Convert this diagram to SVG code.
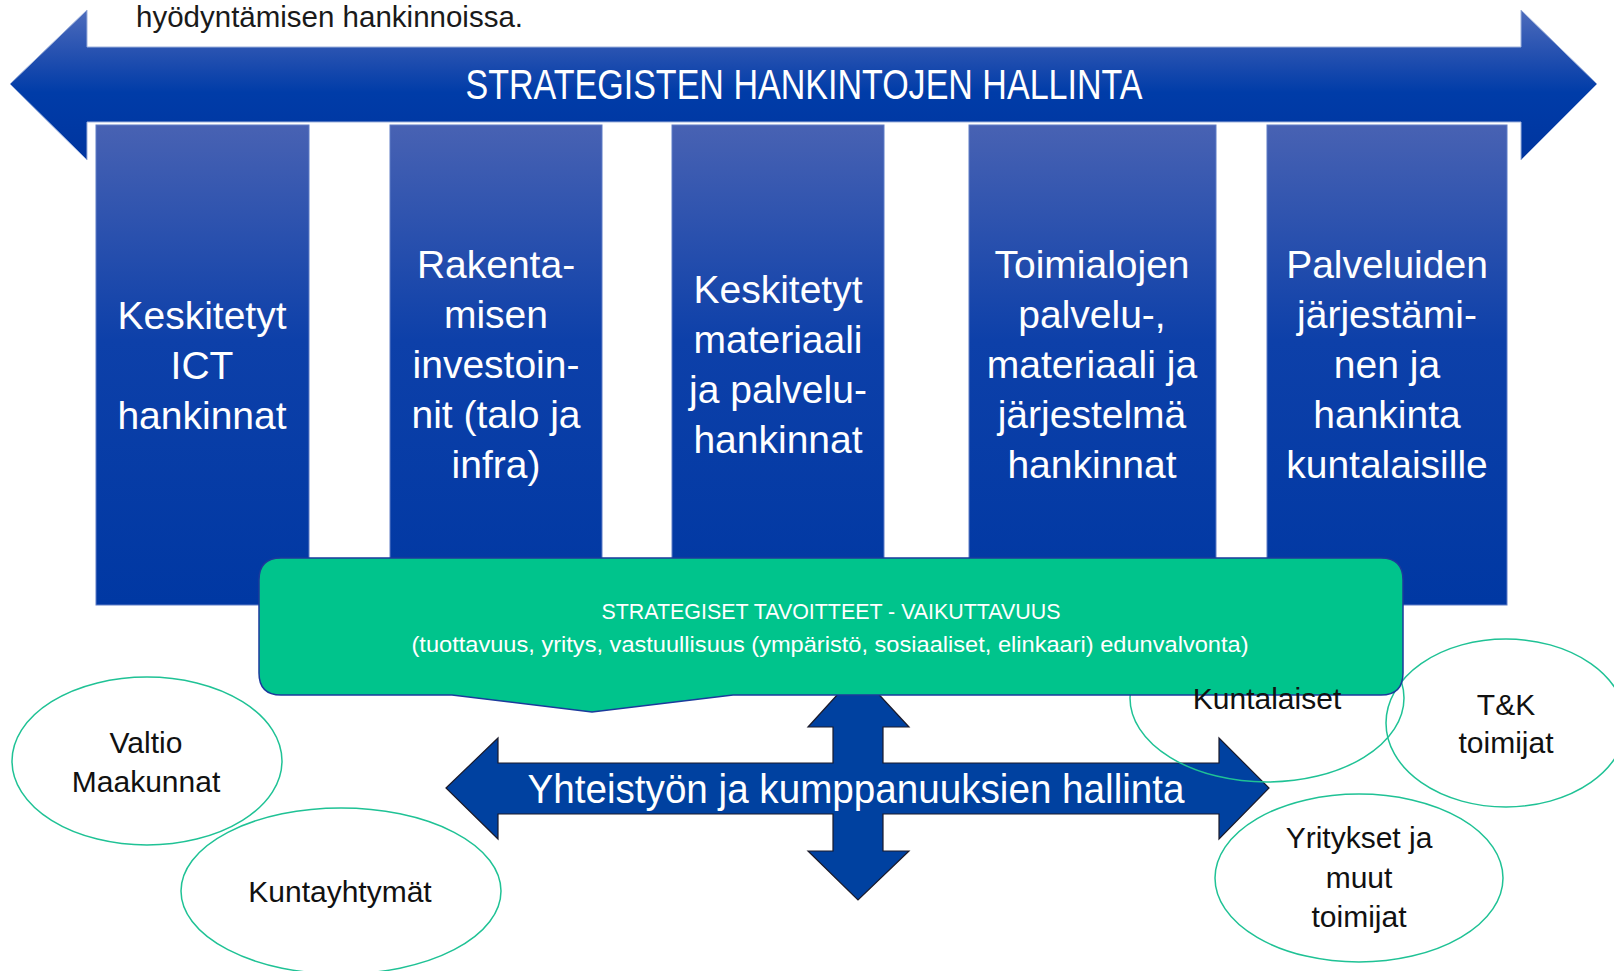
<svg xmlns="http://www.w3.org/2000/svg" width="1614" height="971" viewBox="0 0 1614 971">
  <defs>
    <linearGradient id="gTop" gradientUnits="userSpaceOnUse" x1="0" y1="10" x2="0" y2="160">
      <stop offset="0" stop-color="#4d6cbc"/>
      <stop offset="0.3" stop-color="#2450b0"/>
      <stop offset="0.55" stop-color="#003ca8"/>
      <stop offset="1" stop-color="#00359f"/>
    </linearGradient>
    <linearGradient id="gBox" x1="0" y1="0" x2="0" y2="1">
      <stop offset="0" stop-color="#4862b3"/>
      <stop offset="0.45" stop-color="#0d40a9"/>
      <stop offset="1" stop-color="#0038a3"/>
    </linearGradient>
    <style>
      .lbl { font-family: "Liberation Sans", Arial, sans-serif; text-anchor: middle; }
      .box { fill: url(#gBox); stroke: #5f7cc6; stroke-width: 1; }
      .boxtxt { fill: #ffffff; font-size: 39px; }
      .ell { fill: none; stroke: #1fc295; stroke-width: 1.5; }
      .elltxt { fill: #111111; font-size: 30px; }
      .wtxt { fill: #ffffff; }
    </style>
  </defs>
  <rect x="0" y="0" width="1614" height="971" fill="#ffffff"/>

  <text x="136" y="27" font-family="Liberation Sans, Arial, sans-serif" font-size="29.5" fill="#1a1a1a">hyödyntämisen hankinnoissa.</text>

  <g id="top-arrow">
    <polygon points="10,84 87,10 87,47 1521,47 1521,10 1597,84 1521,160 1521,122 87,122 87,160" fill="url(#gTop)" stroke="#9db1dc" stroke-width="1"/>
    <text class="lbl wtxt" x="804" y="99" font-size="42" textLength="677" lengthAdjust="spacingAndGlyphs">STRATEGISTEN HANKINTOJEN HALLINTA</text>
  </g>

  <g id="box-ict">
    <rect class="box" x="96" y="125" width="213" height="480"/>
    <text class="lbl boxtxt" x="202"><tspan x="202" y="329">Keskitetyt</tspan><tspan x="202" y="379">ICT</tspan><tspan x="202" y="429">hankinnat</tspan></text>
  </g>
  <g id="box-rakentaminen">
    <rect class="box" x="390" y="125" width="212" height="480"/>
    <text class="lbl boxtxt"><tspan x="496" y="278">Rakenta-</tspan><tspan x="496" y="328">misen</tspan><tspan x="496" y="378">investoin-</tspan><tspan x="496" y="428">nit (talo ja</tspan><tspan x="496" y="478">infra)</tspan></text>
  </g>
  <g id="box-materiaali">
    <rect class="box" x="672" y="125" width="212" height="480"/>
    <text class="lbl boxtxt"><tspan x="778" y="303">Keskitetyt</tspan><tspan x="778" y="353">materiaali</tspan><tspan x="778" y="403">ja palvelu-</tspan><tspan x="778" y="453">hankinnat</tspan></text>
  </g>
  <g id="box-toimialat">
    <rect class="box" x="969" y="125" width="247" height="480"/>
    <text class="lbl boxtxt"><tspan x="1092" y="278">Toimialojen</tspan><tspan x="1092" y="328">palvelu-,</tspan><tspan x="1092" y="378">materiaali ja</tspan><tspan x="1092" y="428">järjestelmä</tspan><tspan x="1092" y="478">hankinnat</tspan></text>
  </g>
  <g id="box-palvelut">
    <rect class="box" x="1267" y="125" width="240" height="480"/>
    <text class="lbl boxtxt"><tspan x="1387" y="278">Palveluiden</tspan><tspan x="1387" y="328">järjestämi-</tspan><tspan x="1387" y="378">nen ja</tspan><tspan x="1387" y="428">hankinta</tspan><tspan x="1387" y="478">kuntalaisille</tspan></text>
  </g>

  <g id="connectors">
    <polygon points="446,788 498,738 498,763 833,763 833,727 808,727 858,672 909,727 883,727 883,763 1219,763 1219,738 1269,788 1219,839 1219,814 883,814 883,851 909,851 858,900 808,851 833,851 833,814 498,814 498,839" fill="#0041a0" stroke="#1a1a2a" stroke-width="1.2" stroke-linejoin="miter"/>
    <text class="lbl wtxt" x="856" y="803" font-size="40" textLength="657" lengthAdjust="spacingAndGlyphs">Yhteistyön ja kumppanuuksien hallinta</text>
  </g>

  <g id="node-valtio">
    <ellipse class="ell" cx="147" cy="761" rx="135" ry="84"/>
    <text class="lbl elltxt"><tspan x="146" y="753">Valtio</tspan><tspan x="146" y="792">Maakunnat</tspan></text>
  </g>
  <g id="node-kuntayhtymat">
    <ellipse class="ell" cx="341" cy="891" rx="160" ry="83"/>
    <text class="lbl elltxt" x="340" y="902">Kuntayhtymät</text>
  </g>
  <g id="node-kuntalaiset-shape">
    <ellipse class="ell" cx="1267" cy="698" rx="137" ry="84"/>
  </g>
  <g id="node-tk">
    <ellipse class="ell" cx="1506" cy="723" rx="120" ry="84"/>
    <text class="lbl elltxt"><tspan x="1506" y="715">T&amp;K</tspan><tspan x="1506" y="753">toimijat</tspan></text>
  </g>
  <g id="node-yritykset">
    <ellipse class="ell" cx="1359" cy="878" rx="144" ry="84"/>
    <text class="lbl elltxt"><tspan x="1359" y="848">Yritykset ja</tspan><tspan x="1359" y="888">muut</tspan><tspan x="1359" y="927">toimijat</tspan></text>
  </g>

  <g id="node-tavoitteet">
    <path d="M 281,558 H 1381 Q 1403,558 1403,580 V 673 Q 1403,695 1381,695 H 733 L 592,712 L 452,695 H 281 Q 259,695 259,673 V 580 Q 259,558 281,558 Z" fill="#00c48c" stroke="#1b3a9c" stroke-width="1.5"/>
    <text class="lbl wtxt" x="831" y="619" font-size="22" textLength="459" lengthAdjust="spacingAndGlyphs">STRATEGISET TAVOITTEET - VAIKUTTAVUUS</text>
    <text class="lbl wtxt" x="830" y="652" font-size="22" textLength="837" lengthAdjust="spacingAndGlyphs">(tuottavuus, yritys, vastuullisuus (ympäristö, sosiaaliset, elinkaari) edunvalvonta)</text>
  </g>

  <g id="node-kuntalaiset">
    <text class="lbl elltxt" x="1267" y="709">Kuntalaiset</text>
  </g>
</svg>
